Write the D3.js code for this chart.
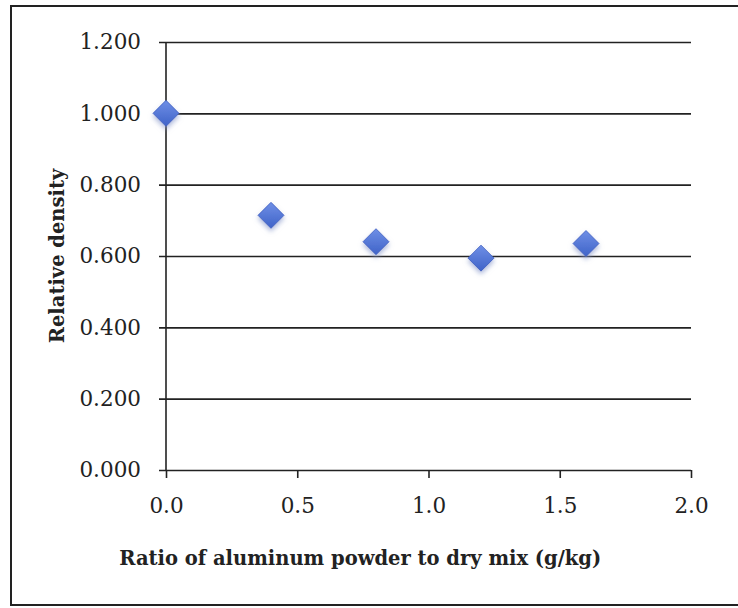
<!DOCTYPE html>
<meta charset="utf-8">
<style>
body { margin: 0; background: #fff; }
.axis text { font: 21.5px "DejaVu Serif", serif; fill: #222; }
.axis path { display: none; }
.axis line { stroke: #222; stroke-width: 1.6; }
.title { font: bold 19.5px "DejaVu Serif", serif; fill: #222; }
</style>
<svg width="738" height="608"></svg>
<script src="https://d3js.org/d3.v7.min.js"></script>
<script>
// relative density vs aluminum powder dose
var ratio = [0.0, 0.4, 0.8, 1.2, 1.6];
var density = [1.000, 0.714, 0.640, 0.594, 0.635];
var yTicks = [0, 0.2, 0.4, 0.6, 0.8, 1.0, 1.2];
var xTicks = [0, 0.5, 1.0, 1.5, 2.0];

var svg = d3.select("svg"),
  margin = {top: 42, right: 47, bottom: 138, left: 166},
  width = 738 - margin.left - margin.right,
  height = 608 - margin.top - margin.bottom;

// outer frame
svg.append("rect")
  .attr("x", 11).attr("y", 6)
  .attr("width", 760).attr("height", 599)
  .attr("fill", "none").attr("stroke", "#222").attr("stroke-width", 2);

var x = d3.scaleLinear().domain([0, 2]).range([0, width]);
var y = d3.scaleLinear().domain([0, 1.2]).range([height, 0]);

var g = svg.append("g")
  .attr("transform", "translate(" + margin.left + "," + margin.top + ")");

var defs = svg.append("defs");
var shadow = defs.append("filter").attr("id", "shadow")
  .attr("x", "-50%").attr("y", "-50%").attr("width", "200%").attr("height", "200%");
shadow.append("feGaussianBlur").attr("in", "SourceAlpha").attr("stdDeviation", 2.5).attr("result", "b");
shadow.append("feOffset").attr("in", "b").attr("dx", 0).attr("dy", 3).attr("result", "o");
shadow.append("feFlood").attr("flood-color", "#8a9acc").attr("flood-opacity", 0.7);
shadow.append("feComposite").attr("in2", "o").attr("operator", "in").attr("result", "s");
var merge = shadow.append("feMerge");
merge.append("feMergeNode").attr("in", "s");
merge.append("feMergeNode").attr("in", "SourceGraphic");

var grad = defs.append("linearGradient").attr("id", "dia")
  .attr("x1", 0).attr("y1", 0).attr("x2", 0).attr("y2", 1);
grad.append("stop").attr("offset", "0%").attr("stop-color", "#6f8fe6");
grad.append("stop").attr("offset", "100%").attr("stop-color", "#3f63c8");

// y axis with gridlines
g.append("g")
  .attr("class", "axis")
  .call(d3.axisLeft(y).tickValues(yTicks).tickFormat(d3.format(".3f"))
    .tickSize(-width).tickPadding(25))
  .call(function(s) {
    s.selectAll("line").attr("x1", -7);
  });

// y axis line
g.append("line")
  .attr("x1", 0).attr("x2", 0)
  .attr("y1", y(1.2)).attr("y2", height)
  .attr("stroke", "#222").attr("stroke-width", 1.6);

// x axis
g.append("g")
  .attr("class", "axis")
  .attr("transform", "translate(0," + height + ")")
  .call(d3.axisBottom(x).tickValues(xTicks).tickFormat(d3.format(".1f"))
    .tickSize(8).tickPadding(20));

g.append("text")
  .attr("class", "title")
  .attr("x", x(0.74)).attr("y", height + 95)
  .attr("text-anchor", "middle")
  .text("Ratio of aluminum powder to dry mix (g/kg)");

g.append("text")
  .attr("class", "title")
  .attr("transform", "translate(" + (-102) + "," + y(0.6) + ") rotate(-90)")
  .attr("text-anchor", "middle")
  .text("Relative density");

var r = 13;
g.append("g").selectAll("path")
  .data(ratio)
  .enter().append("path")
  .attr("d", function(d, i) {
    var cx = x(d), cy = y(density[i]);
    return "M" + cx + "," + (cy - r) + "L" + (cx + r) + "," + cy +
      "L" + cx + "," + (cy + r) + "L" + (cx - r) + "," + cy + "Z";
  })
  .attr("fill", "url(#dia)")
  .attr("stroke", "#3a5cc0").attr("stroke-width", 0.8)
  .attr("filter", "url(#shadow)");
</script>
